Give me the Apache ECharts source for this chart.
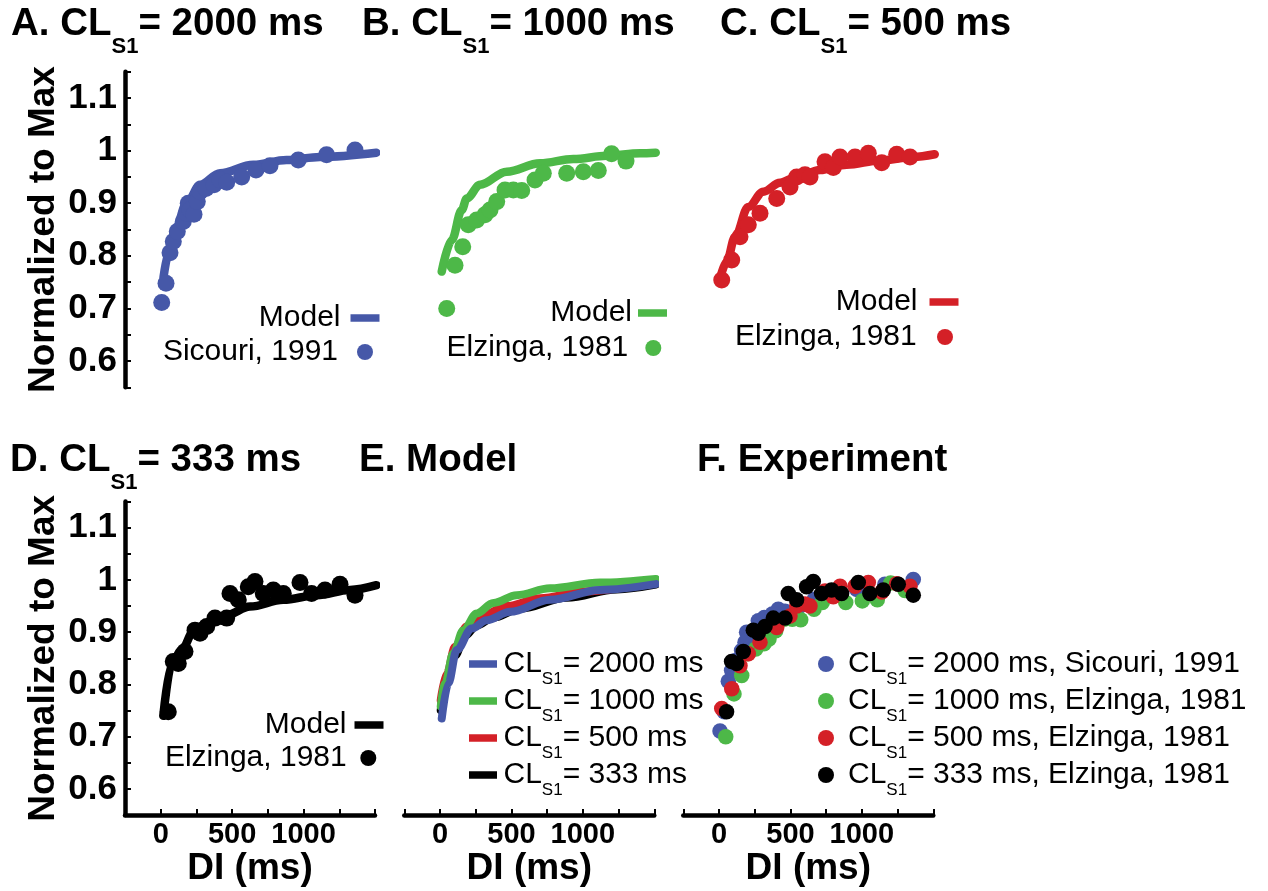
<!DOCTYPE html>
<html>
<head>
<meta charset="utf-8">
<script src="https://cdn.jsdelivr.net/npm/echarts@6/dist/echarts.min.js"></script>
<style>
  html, body { margin: 0; padding: 0; background: #fff; }
  #chart { width: 1268px; height: 891px; }
</style>
</head>
<body>
<div id="chart"></div>
<script>
// APD restitution: diastolic interval (ms) vs APD normalized to its maximum

const xTickLabels = [0, 500, 1000];
const yTickLabels = [0.6, 0.7, 0.8, 0.9, 1, 1.1];
const cycleLengths = [2000, 1000, 500, 333];
const sources = ['Sicouri, 1991', 'Elzinga, 1981', 'Elzinga, 1981', 'Elzinga, 1981'];

// Model restitution curves, one panel per pacing cycle length  [DI, APD/APDmax]
const modelCL2000 = [[20, 0.760], [60, 0.810], [100, 0.849], [182, 0.900], [275, 0.935], [415, 0.957], [648, 0.973], [881, 0.982], [1115, 0.988], [1510, 0.996]];
const modelCL1000 = [[12, 0.770], [82, 0.830], [152, 0.887], [187, 0.909], [280, 0.935], [467, 0.960], [700, 0.976], [933, 0.984], [1167, 0.990], [1400, 0.995], [1510, 0.996]];
const modelCL500  = [[2, 0.751], [54, 0.789], [112, 0.836], [205, 0.893], [310, 0.922], [427, 0.939], [544, 0.950], [707, 0.963], [894, 0.973], [1127, 0.981], [1360, 0.988], [1510, 0.993]];
const modelCL333  = [[18, 0.740], [77, 0.840], [147, 0.866], [228, 0.901], [322, 0.917], [462, 0.933], [625, 0.949], [858, 0.962], [1092, 0.971], [1325, 0.981], [1510, 0.990]];

// Model curves overlaid in panel E
const overlayCL2000 = [[12, 0.735], [58, 0.802], [117, 0.866], [222, 0.907], [327, 0.923], [490, 0.939], [770, 0.962], [1120, 0.981], [1510, 0.992]];
const overlayCL1000 = [[5, 0.758], [35, 0.802], [93, 0.860], [163, 0.904], [257, 0.936], [373, 0.956], [537, 0.971], [770, 0.984], [1120, 0.995], [1510, 1.002]];
const overlayCL500  = [[5, 0.770], [47, 0.821], [105, 0.872], [187, 0.911], [303, 0.933], [467, 0.950], [700, 0.965], [1003, 0.978], [1510, 0.997]];
const overlayCL333  = [[5, 0.751], [35, 0.796], [105, 0.855], [175, 0.893], [257, 0.913], [373, 0.928], [560, 0.945], [887, 0.966], [1237, 0.982], [1510, 0.991]];

// Experimental restitution points
const sicouriCL2000 = [[7, 0.711], [37, 0.748], [65, 0.806], [88, 0.827], [116, 0.846], [158, 0.865], [182, 0.881], [193, 0.900], [205, 0.887], [233, 0.879], [256, 0.903], [275, 0.922], [317, 0.928], [373, 0.935], [415, 0.944], [462, 0.940], [567, 0.950], [667, 0.963], [765, 0.971], [963, 0.982], [1161, 0.992], [1360, 1.001]];
const elzingaCL1000 = [[47, 0.700], [105, 0.782], [159, 0.817], [198, 0.859], [257, 0.868], [315, 0.878], [350, 0.887], [397, 0.903], [455, 0.925], [513, 0.925], [572, 0.924], [665, 0.944], [723, 0.957], [887, 0.957], [1003, 0.960], [1108, 0.962], [1201, 0.994], [1302, 0.980]];
const elzingaCL500  = [[19, 0.754], [89, 0.792], [147, 0.836], [205, 0.859], [287, 0.881], [404, 0.909], [497, 0.931], [544, 0.950], [602, 0.954], [637, 0.950], [742, 0.979], [800, 0.968], [847, 0.988], [952, 0.988], [1045, 0.995], [1139, 0.977], [1244, 0.993], [1337, 0.988]];
const elzingaCL333  = [[53, 0.748], [88, 0.844], [123, 0.840], [170, 0.863], [240, 0.904], [275, 0.898], [322, 0.911], [380, 0.927], [462, 0.927], [485, 0.974], [543, 0.962], [613, 0.987], [660, 0.997], [718, 0.974], [788, 0.981], [858, 0.974], [975, 0.995], [1056, 0.974], [1150, 0.981], [1255, 0.992], [1360, 0.971]];

const COLORS = ['#4658A8', '#4DB848', '#D42027', '#000000'];
const FONT = '"Liberation Sans", Arial, Helvetica, sans-serif';

const models = [modelCL2000, modelCL1000, modelCL500, modelCL333];
const overlays = [overlayCL2000, overlayCL1000, overlayCL500, overlayCL333];
const experiments = [sicouriCL2000, elzingaCL1000, elzingaCL500, elzingaCL333];

// ---- panel frames ----
const topRow = { top: 71.7, height: 315.6 };
const bottomRow = { top: 501.6, height: 313.5 };
const colLeft = [125, 404.3, 683.3];
const grids = [
  { left: colLeft[0], width: 250, ...topRow },
  { left: colLeft[1], width: 250, ...topRow },
  { left: colLeft[2], width: 250, ...topRow },
  { left: colLeft[0], width: 250, ...bottomRow },
  { left: colLeft[1], width: 250, ...bottomRow },
  { left: colLeft[2], width: 250, ...bottomRow }
];

const near = (v, list) => list.some(t => Math.abs(t - v) < 1e-6);

function xAxisFor(i, visible) {
  return {
    gridIndex: i, type: 'value', min: -250, max: 1500, interval: 250,
    show: visible,
    axisLine: { show: true, onZero: false, lineStyle: { color: '#000', width: 4.5 } },
    axisTick: { show: true, inside: true, length: 6, lineStyle: { color: '#000', width: 2 } },
    axisLabel: {
      show: true, margin: 5, color: '#000', fontFamily: FONT, fontWeight: 'bold', fontSize: 29,
      formatter: v => near(v, xTickLabels) ? String(v) : ''
    },
    splitLine: { show: false },
    name: 'DI (ms)', nameLocation: 'middle', nameGap: 28,
    nameTextStyle: { color: '#000', fontFamily: FONT, fontWeight: 'bold', fontSize: 37 }
  };
}

function yAxisFor(i, visible) {
  return {
    gridIndex: i, type: 'value', min: 0.55, max: 1.15, interval: 0.05,
    show: visible,
    axisLine: { show: true, onZero: false, lineStyle: { color: '#000', width: 4.5 } },
    axisTick: { show: true, inside: true, length: 6, lineStyle: { color: '#000', width: 2 } },
    axisLabel: {
      show: true, margin: 8, color: '#000', fontFamily: FONT, fontWeight: 'bold', fontSize: 35,
      formatter: v => {
        const r = Math.round(v * 100) / 100;
        return near(r, yTickLabels) ? String(r) : '';
      }
    },
    splitLine: { show: false },
    name: 'Normalized to Max', nameLocation: 'middle', nameGap: 63,
    nameTextStyle: { color: '#000', fontFamily: FONT, fontWeight: 'bold', fontSize: 37 }
  };
}

const xAxes = [
  xAxisFor(0, false), xAxisFor(1, false), xAxisFor(2, false),
  xAxisFor(3, true), xAxisFor(4, true), xAxisFor(5, true)
];
const yAxes = [
  yAxisFor(0, true), yAxisFor(1, false), yAxisFor(2, false),
  yAxisFor(3, true), yAxisFor(4, false), yAxisFor(5, false)
];

// ---- series ----
const series = [];
function modelLine(name, grid, data, color, width) {
  return {
    name, type: 'line', xAxisIndex: grid, yAxisIndex: grid, data,
    symbol: 'none', smooth: 0.35, smoothMonotone: 'x', clip: false,
    color, lineStyle: { color, width, cap: 'round', join: 'round' },
    z: 2, animation: false
  };
}
function dots(name, grid, data, color, size) {
  return {
    name, type: 'scatter', xAxisIndex: grid, yAxisIndex: grid, data,
    symbol: 'circle', symbolSize: size, clip: false,
    color, itemStyle: { color, opacity: 1 },
    z: 3, animation: false
  };
}

// panels A-D: one cycle length each
for (let k = 0; k < 4; k++) {
  series.push(modelLine('model-' + k, k, models[k], COLORS[k], 8.5));
  series.push(dots('data-' + k, k, experiments[k], COLORS[k], 17));
}
// panel E: model curves overlaid (2000 ms drawn on top)
[3, 2, 1, 0].forEach(k => series.push(modelLine('overlay-' + k, 4, overlays[k], COLORS[k], 8)));
// panel F: all experimental points (333 ms drawn on top)
[0, 1, 2, 3].forEach(k => series.push(dots('pooled-' + k, 5, experiments[k], COLORS[k], 15.5)));

// ---- legends ----
const legendText = { color: '#000', fontFamily: FONT, fontSize: 30, lineHeight: 32 };
const subRich = {
  m: { fontFamily: FONT, fontSize: 30, lineHeight: 32, color: '#000' },
  s: { fontFamily: FONT, fontSize: 17, lineHeight: 32, color: '#000', padding: [31, 0, 0, 0] }
};

// A legend box is aligned on its drawn content, so a dot legend is placed by the dot's own edge
function pairLegends(k, lineRight, rowModel, rowData, lineGap, dotRight, dotGap) {
  const common = {
    orient: 'vertical', align: 'right', padding: 0, itemGap: 0,
    selectedMode: false, itemStyle: { borderWidth: 0 }
  };
  return [
    { ...common, data: ['model-' + k], right: 1268 - lineRight, top: rowModel - 16,
      icon: 'rect', itemWidth: 29, itemHeight: 7.5,
      textStyle: { ...legendText, padding: [0, lineGap, 0, 0] },
      formatter: () => 'Model' },
    { ...common, data: ['data-' + k], right: 1268 - dotRight, top: rowData - 16,
      icon: 'circle', itemWidth: 29, itemHeight: 16,
      textStyle: { ...legendText, padding: [0, dotGap, 0, 0] },
      formatter: () => sources[k] }
  ];
}

const legends = [
  ...pairLegends(0, 379.5, 318, 352, 5, 373, 7.5),
  ...pairLegends(1, 667, 313, 348, 1, 661.3, 5.5),
  ...pairLegends(2, 958.5, 302, 337, 7, 953, 8.8),
  ...pairLegends(3, 383.5, 725, 758, 3, 376.3, 2.1)
];

// rich rows sit 8 px below their box top + 16
const legendRows = [656, 693, 730, 767];
for (let k = 0; k < 4; k++) {
  legends.push({
    orient: 'vertical', align: 'left', left: 469, top: legendRows[k] - 16, padding: 0,
    selectedMode: false, data: ['overlay-' + k], icon: 'rect', itemWidth: 28, itemHeight: 7.5,
    itemStyle: { borderWidth: 0 },
    textStyle: { ...legendText, padding: [0, 0, 0, 1.5], rich: subRich },
    formatter: () => `{m|CL}{s|S1}{m|= ${cycleLengths[k]} ms}`
  });
  legends.push({
    orient: 'vertical', align: 'left', left: 818, top: legendRows[k] - 16, padding: 0,
    selectedMode: false, data: ['pooled-' + k], icon: 'circle', itemWidth: 29, itemHeight: 16,
    itemStyle: { borderWidth: 0 },
    textStyle: { ...legendText, padding: [0, 0, 0, 2.5], rich: subRich },
    formatter: () => `{m|CL}{s|S1}{m|= ${cycleLengths[k]} ms, ${sources[k]}}`
  });
}

// ---- panel titles ----
const titleRich = {
  m: { fontFamily: FONT, fontWeight: 'bold', fontSize: 38.5, lineHeight: 40, color: '#000' },
  s: { fontFamily: FONT, fontWeight: 'bold', fontSize: 22, lineHeight: 40, color: '#000', padding: [46, 0, 0, 0] }
};
const clTitle = (label, cl) => `{m|${label} CL}{s|S1}{m|= ${cl} ms}`;
const titles = [
  { text: clTitle('A.', cycleLengths[0]), left: 11, top: 4 },
  { text: clTitle('B.', cycleLengths[1]), left: 362, top: 4 },
  { text: clTitle('C.', cycleLengths[2]), left: 720, top: 4 },
  { text: clTitle('D.', cycleLengths[3]), left: 10, top: 440 },
  { text: '{m|E. Model}', left: 359, top: 440 },
  { text: '{m|F. Experiment}', left: 697, top: 440 }
].map(t => ({ ...t, padding: 0, textStyle: { rich: titleRich } }));

const chart = echarts.init(document.getElementById('chart'), null, { renderer: 'canvas' });
chart.setOption({
  backgroundColor: '#ffffff',
  animation: false,
  title: titles,
  grid: grids,
  xAxis: xAxes,
  yAxis: yAxes,
  legend: legends,
  series
});
</script>
</body>
</html>
